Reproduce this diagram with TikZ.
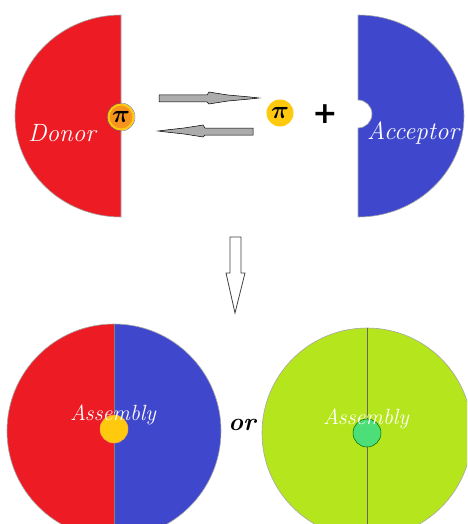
\documentclass[tikz,border=0pt]{standalone}
\usepackage{amsmath}
\usepackage{fontspec}
\newfontfamily\plusfont{DejaVu Sans}
\begin{document}
\begin{tikzpicture}[x=1pt,y=-1pt,
  edge/.style={draw=gray!70,line width=0.6pt},
  lbl/.style={text=white,font=\fontsize{25}{28}\selectfont\itshape,inner sep=0pt},
  albl/.style={text=white,font=\fontsize{22}{24}\selectfont\itshape,inner sep=0pt},
  pibox/.style={circle,minimum size=27pt,inner sep=0pt,font=\fontsize{24}{26}\selectfont},
  grayarrow/.style={fill=gray!65,draw=black,line width=0.5pt}]
\definecolor{dred}{HTML}{ED1C24}
\definecolor{ablue}{HTML}{3F48CC}
\definecolor{lime}{HTML}{B5E61D}
\definecolor{ayellow}{HTML}{FFC90E}
\definecolor{aorange}{HTML}{F7941D}
\definecolor{agreen}{HTML}{4CDE77}
\useasboundingbox (0,0) rectangle (467,524);
\clip (0,0) rectangle (467,524);
\fill[white] (0,0) rectangle (467,524);
% Donor half disc
\path[fill=dred,edge] (121,15) arc[start angle=-90,end angle=-270,x radius=106,y radius=101] -- cycle;
\node[lbl] (donor) at (62,133) {Donor};
\node[pibox,fill=aorange,draw=ayellow,line width=2pt,minimum size=25pt] (pid) at (121,117) {$\boldsymbol{\pi}$};
\draw[black!60,line width=0.4pt] (pid) circle[radius=14];
% Acceptor half disc with notch
\path[fill=ablue,edge] (358,15) arc[start angle=-90,end angle=90,x radius=106,y radius=101]
  -- (358,128) arc[start angle=90,end angle=-90,radius=14] -- cycle;
\node[lbl] (acceptor) at (413,133) {Acceptor};
% free pi and plus
\node[pibox,fill=ayellow] (pif) at (280,113) {$\boldsymbol{\pi}$};
\node[font=\plusfont\fontsize{30}{32}\selectfont\bfseries,inner sep=0pt] (plus) at (325,114) {+};
% equilibrium arrows
\path[grayarrow] (159,95) -- (207,95) -- (209,92) -- (215,93) -- (228,95) -- (250,97) -- (259,98)
  -- (250,99) -- (228,101) -- (215,103) -- (209,104) -- (207,102) -- (159,102) -- cycle;
\path[grayarrow] (253,128) -- (205,128) -- (203,125) -- (197,126) -- (184,128) -- (166,130) -- (158,131)
  -- (166,132) -- (184,134) -- (197,136) -- (203,137) -- (205,135) -- (253,135) -- cycle;
% down arrow
\path[fill=white,draw=black!75,line width=0.8pt] (230,237) -- (241,237) -- (241,273) -- (245,273)
  -- (235,313) -- (226,273) -- (230,273) -- cycle;
% assembly 1
\path[fill=dred] (114,324) arc[start angle=-90,end angle=-270,radius=107] -- cycle;
\path[fill=ablue] (114,324) arc[start angle=-90,end angle=90,radius=107] -- cycle;
\draw[gray!70,line width=0.6pt] (114,431) circle[radius=107];
\draw[black!50,line width=0.4pt] (114,324) -- (114,524);
\node[circle,fill=ayellow,draw=aorange!80,line width=0.5pt,minimum size=28pt,inner sep=0pt] (y1) at (114,429) {};
\node[albl] (as1) at (113,415) {Assembly};
% or
\node[font=\fontsize{25}{27}\selectfont\bfseries\itshape,inner sep=0pt] (or) at (242,425) {or};
% assembly 2
\path[fill=lime,draw=gray!70,line width=0.6pt] (367,433) circle[radius=105];
\draw[black!60,line width=0.6pt] (367,328) -- (367,524);
\node[circle,fill=agreen,draw=green!40!black,line width=0.5pt,minimum size=28pt,inner sep=0pt] (g2) at (367,433) {};
\node[albl] (as2) at (366,419) {Assembly};
\end{tikzpicture}
\end{document}
